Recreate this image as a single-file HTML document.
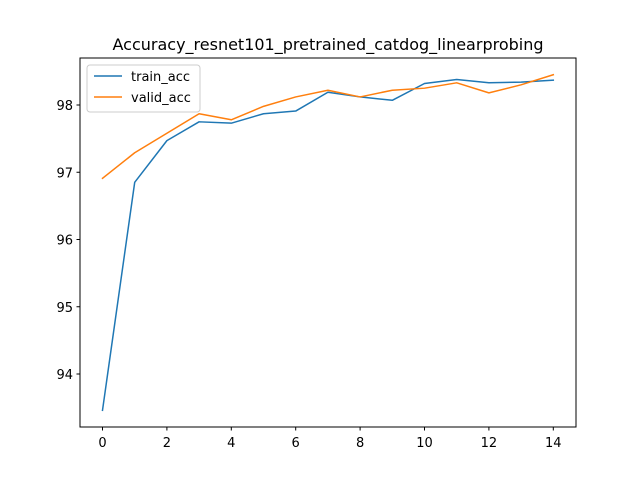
<!DOCTYPE html>
<html><head><meta charset="utf-8"><style>
html,body{margin:0;padding:0;background:#fff;}
svg{display:block;font-family:"DejaVu Sans","Liberation Sans",sans-serif;}
</style></head><body>
<svg id="chart" width="640" height="480" viewBox="0 0 640 480">
<rect width="640" height="480" fill="#fff"/>
<text x="328" y="50" text-anchor="middle" font-size="16" fill="#000">Accuracy_resnet101_pretrained_catdog_linearprobing</text>
<g id="plot"></g>
<rect x="80" y="58" width="496" height="369" fill="none" stroke="#000" stroke-width="1"/>
<g>
<rect x="87" y="65" width="113" height="47" rx="3" fill="#fff" fill-opacity="0.8" stroke="#ccc"/>
<line x1="94" y1="76" x2="122" y2="76" stroke="#1f77b4" stroke-width="1.5"/>
<text x="131" y="81" font-size="13">train_acc</text>
<line x1="94" y1="97" x2="122" y2="97" stroke="#ff7f0e" stroke-width="1.5"/>
<text x="131" y="102" font-size="13">valid_acc</text>
</g>
</svg>
<script>
const epochs = [0,1,2,3,4,5,6,7,8,9,10,11,12,13,14];
const trainAcc = [93.46,96.85,97.47,97.75,97.73,97.87,97.91,98.19,98.12,98.07,98.32,98.38,98.33,98.34,98.37];
const validAcc = [96.91,97.29,97.58,97.87,97.78,97.98,98.12,98.22,98.12,98.22,98.25,98.33,98.18,98.30,98.45];
const xTicks = [0,2,4,6,8,10,12,14];
const yTicks = [94,95,96,97,98];
const NS="http://www.w3.org/2000/svg";
const xs = v => 102.5 + v*32.2;
const ys = v => 374 - (v-94)*67.25;
const g = document.getElementById('plot');
function mk(t,a){const e=document.createElementNS(NS,t);for(const k in a)e.setAttribute(k,a[k]);g.appendChild(e);return e;}
xTicks.forEach(v=>{
  const l=mk('line',{x1:xs(v),x2:xs(v),y1:427,y2:430.5,stroke:'#000'});
  
  
  const t=mk('text',{x:xs(v),y:447,'text-anchor':'middle','font-size':'13'});t.textContent=v;
  
  
});
yTicks.forEach(v=>{
  const l=mk('line',{x1:76.5,x2:80,y1:ys(v),y2:ys(v),stroke:'#000'});
  
  
  const t=mk('text',{x:73,y:ys(v)+5,'text-anchor':'end','font-size':'13'});t.textContent=v;
  
  
});
function line(d,c,n){
  const p=mk('polyline',{points:d.map((v,i)=>xs(epochs[i])+','+ys(v)).join(' '),fill:'none',stroke:c,'stroke-width':1.5,'stroke-linejoin':'round','stroke-linecap':'square'});
  
  
}
line(trainAcc,'#1f77b4','train-acc-line');
line(validAcc,'#ff7f0e','valid-acc-line');
</script>
</body></html>
